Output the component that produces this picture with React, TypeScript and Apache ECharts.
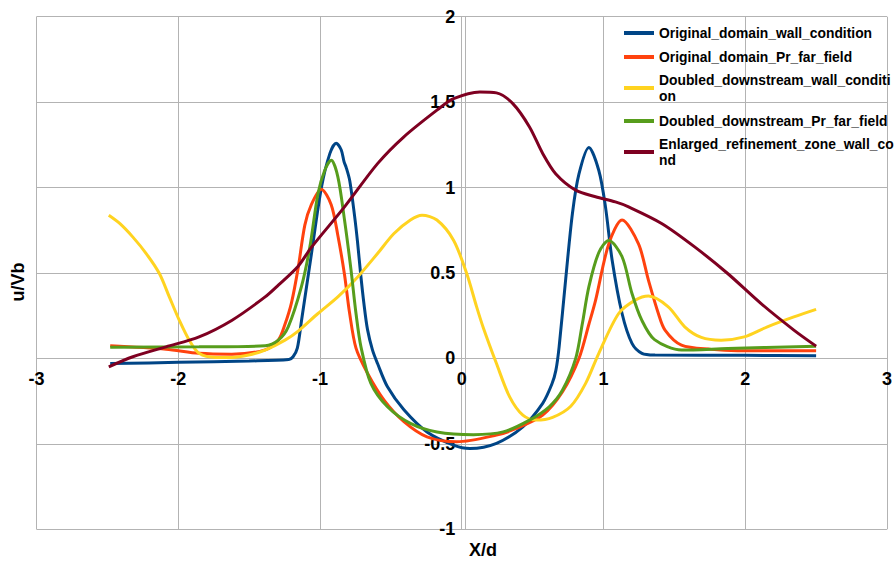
import React, { useEffect, useRef } from "react";
import * as echarts from "echarts";

const seriesNames = [
  "Original_domain_wall_condition",
  "Original_domain_Pr_far_field",
  "Doubled_downstream_wall_condition",
  "Doubled_downstream_Pr_far_field",
  "Enlarged_refinement_zone_wall_cond",
];
const legendLabels = [
  "Original_domain_wall_condition",
  "Original_domain_Pr_far_field",
  "Doubled_downstream_wall_conditi\non",
  "Doubled_downstream_Pr_far_field",
  "Enlarged_refinement_zone_wall_co\nnd",
];
const seriesColors = ["#004586", "#ff420e", "#ffd320", "#579d1c", "#7e0021"];

const blueX = [-2.48, -2.0, -1.5, -1.22, -1.19, -1.16, -1.13, -1.06, -0.99, -0.93, -0.886, -0.85, -0.83, -0.816, -0.79, -0.757, -0.735, -0.714, -0.69, -0.665, -0.63, -0.594, -0.524, -0.408, -0.245, -0.058, 0.058, 0.245, 0.431, 0.571, 0.636, 0.664, 0.687, 0.734, 0.781, 0.827, 0.897, 0.967, 1.014, 1.061, 1.131, 1.201, 1.271, 1.364, 2.0, 2.5];
const blueY = [-0.03, -0.023, -0.015, -0.006, 0.01, 0.06, 0.224, 0.614, 1.0, 1.2, 1.26, 1.22, 1.15, 1.12, 1.04, 0.84, 0.68, 0.5, 0.32, 0.17, 0.05, -0.03, -0.166, -0.3, -0.43, -0.507, -0.527, -0.497, -0.4, -0.263, -0.15, -0.07, 0.068, 0.47, 0.85, 1.08, 1.235, 1.1, 0.887, 0.575, 0.263, 0.088, 0.03, 0.02, 0.018, 0.015];

const orangeX = [-2.48, -2.086, -1.853, -1.622, -1.387, -1.294, -1.247, -1.2, -1.154, -1.107, -1.061, -0.991, -0.921, -0.874, -0.827, -0.792, -0.746, -0.664, -0.548, -0.408, -0.245, -0.035, 0.245, 0.385, 0.571, 0.711, 0.827, 0.897, 0.944, 1.037, 1.131, 1.247, 1.317, 1.387, 1.434, 1.55, 1.76, 1.946, 2.5];
const orangeY = [0.074, 0.054, 0.03, 0.025, 0.05, 0.107, 0.2, 0.33, 0.53, 0.78, 0.9, 0.99, 0.9, 0.72, 0.49, 0.27, 0.06, -0.088, -0.244, -0.37, -0.459, -0.488, -0.449, -0.41, -0.332, -0.195, 0.0, 0.2, 0.34, 0.67, 0.81, 0.67, 0.458, 0.263, 0.166, 0.078, 0.053, 0.045, 0.045];

const yellowX = [-2.49, -2.413, -2.32, -2.226, -2.133, -2.063, -1.993, -1.923, -1.853, -1.736, -1.62, -1.503, -1.387, -1.247, -1.154, -1.014, -0.874, -0.734, -0.594, -0.478, -0.362, -0.28, -0.175, -0.058, 0.035, 0.105, 0.152, 0.245, 0.338, 0.431, 0.524, 0.641, 0.769, 0.874, 0.967, 1.107, 1.224, 1.317, 1.457, 1.573, 1.69, 1.83, 1.993, 2.156, 2.343, 2.5];
const yellowY = [0.838, 0.79, 0.71, 0.614, 0.497, 0.36, 0.224, 0.107, 0.03, 0.006, 0.006, 0.02, 0.049, 0.107, 0.16, 0.263, 0.36, 0.477, 0.614, 0.731, 0.81, 0.838, 0.81, 0.692, 0.497, 0.302, 0.18, -0.03, -0.225, -0.332, -0.361, -0.345, -0.28, -0.146, 0.03, 0.263, 0.341, 0.365, 0.302, 0.185, 0.123, 0.107, 0.126, 0.185, 0.243, 0.287];

const greenX = [-2.48, -1.853, -1.387, -1.294, -1.224, -1.131, -1.072, -1.014, -0.967, -0.921, -0.874, -0.827, -0.781, -0.746, -0.711, -0.641, -0.524, -0.362, -0.175, 0.082, 0.292, 0.478, 0.617, 0.711, 0.804, 0.85, 0.897, 0.967, 1.037, 1.131, 1.201, 1.27, 1.36, 1.55, 1.876, 2.5];
const greenY = [0.066, 0.068, 0.074, 0.107, 0.185, 0.42, 0.65, 0.965, 1.1, 1.16, 1.063, 0.81, 0.517, 0.263, 0.068, -0.146, -0.283, -0.38, -0.43, -0.446, -0.43, -0.361, -0.283, -0.185, 0.0, 0.2, 0.42, 0.62, 0.69, 0.595, 0.38, 0.224, 0.11, 0.049, 0.058, 0.072];

const redX = [-2.49, -2.32, -2.086, -1.853, -1.62, -1.387, -1.294, -1.154, -1.061, -0.827, -0.594, -0.408, -0.175, -0.058, 0.128, 0.245, 0.362, 0.478, 0.571, 0.664, 0.804, 0.944, 1.084, 1.177, 1.41, 1.643, 1.876, 2.11, 2.343, 2.5];
const redY = [-0.049, 0.01, 0.068, 0.126, 0.224, 0.36, 0.429, 0.54, 0.65, 0.887, 1.14, 1.297, 1.453, 1.52, 1.56, 1.554, 1.49, 1.355, 1.2, 1.08, 0.985, 0.946, 0.916, 0.887, 0.79, 0.653, 0.497, 0.322, 0.166, 0.072];

const seriesX = [blueX, orangeX, yellowX, greenX, redX];
const seriesY = [blueY, orangeY, yellowY, greenY, redY];

const xTitle = "X/d";
const yTitle = "u/Vb";

const FONT = "'Liberation Sans', Arial, sans-serif";

// plot frame (pixels)
const GRID_LEFT = 36.5;
const GRID_RIGHT = 1;
const GRID_TOP = 16.7;
const GRID_BOTTOM = 31.7;
const W = 895;
const H = 561;

export default function App() {
  const ref = useRef<HTMLDivElement>(null);
  useEffect(() => {
    if (!ref.current) return;
    const chart = echarts.init(ref.current, undefined, { renderer: "svg" });
    const labelMap: Record<string, string> = {};
    seriesNames.forEach((n, i) => (labelMap[n] = legendLabels[i]));
    const xMin = -3, xMax = 3, yMin = -1, yMax = 2;
    const plotW = W - GRID_LEFT - GRID_RIGHT;
    const plotH = H - GRID_TOP - GRID_BOTTOM;
    // place each axis on the other's zero
    const xAxisOffset = -(plotH * (0 - yMin)) / (yMax - yMin);
    const yAxisOffset = -(plotW * (0 - xMin)) / (xMax - xMin);
    const legendText = {
      fontFamily: FONT,
      fontWeight: "bold",
      fontSize: 13.85,
      lineHeight: 16,
      color: "#000",
    };
    const legendBase = {
      orient: "vertical",
      left: 619,
      itemWidth: 30,
      itemHeight: 4,
      itemGap: 8,
      icon: "rect",
      selectedMode: false,
      padding: 5,
      formatter: (n: string) => labelMap[n] || n,
      textStyle: legendText,
    };
    const grid = "#b3b3b3";
    const tickLabel = {
      color: "#000",
      fontFamily: FONT,
      fontWeight: "bold",
      fontSize: 18,
    };
    chart.setOption({
      animation: false,
      backgroundColor: "#fff",
      grid: { left: GRID_LEFT, right: GRID_RIGHT, top: GRID_TOP, bottom: GRID_BOTTOM, containLabel: false },
      xAxis: {
        type: "value",
        min: xMin,
        max: xMax,
        interval: 1,
        position: "bottom",
        offset: xAxisOffset,
        axisLine: { onZero: false, lineStyle: { color: grid, width: 1 } },
        axisTick: { show: false },
        splitLine: { show: true, lineStyle: { color: grid, width: 1 } },
        axisLabel: { ...tickLabel, margin: 12 },
      },
      yAxis: {
        type: "value",
        min: yMin,
        max: yMax,
        interval: 0.5,
        position: "left",
        offset: yAxisOffset,
        axisLine: { onZero: false, lineStyle: { color: grid, width: 1 } },
        axisTick: { show: false },
        splitLine: { show: true, lineStyle: { color: grid, width: 1 } },
        axisLabel: { ...tickLabel, margin: 10 },
      },
      legend: [
        {
          ...legendBase,
          top: 20,
          data: [
            seriesNames[0],
            seriesNames[1],
            { name: seriesNames[2], textStyle: { height: 16 } },
          ],
        },
        {
          ...legendBase,
          top: 108,
          data: [seriesNames[3], { name: seriesNames[4], textStyle: { height: 16 } }],
        },
      ],
      graphic: [
        {
          type: "text",
          x: 18,
          y: 282,
          rotation: Math.PI / 2,
          style: {
            text: yTitle,
            fill: "#000",
            font: `bold 18px ${FONT}`,
            align: "center",
            verticalAlign: "middle",
          },
        },
        {
          type: "text",
          x: 483,
          y: 550,
          style: {
            text: xTitle,
            fill: "#000",
            font: `bold 18px ${FONT}`,
            align: "center",
            verticalAlign: "middle",
          },
        },
      ],
      series: seriesNames.map((name, i) => ({
        name,
        type: "line",
        showSymbol: false,
        symbol: "none",
        smooth: 0.3,
        color: seriesColors[i],
        lineStyle: { color: seriesColors[i], width: 3 },
        data: seriesX[i].map((x, j) => [x, seriesY[i][j]]),
      })),
    });
    return () => chart.dispose();
  }, []);
  return (
    <div
      ref={ref}
      style={{ position: "absolute", left: 0, top: 0, width: W, height: H }}
    />
  );
}
